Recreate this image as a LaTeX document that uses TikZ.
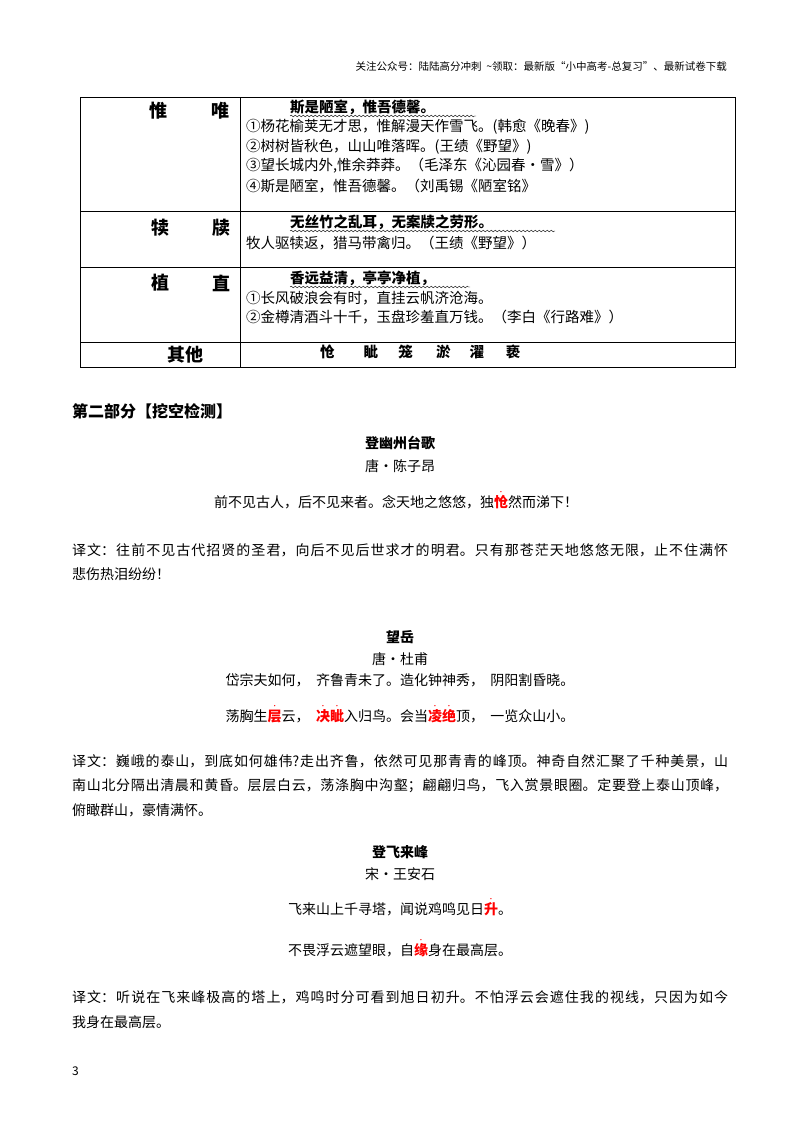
\documentclass[tikz,border=0pt]{standalone}
\usepackage{fontspec}
\usetikzlibrary{decorations.pathmorphing}
\setmainfont{Noto Sans CJK SC}
\XeTeXlinebreaklocale "zh"
\XeTeXlinebreakskip=0pt plus 20pt
\newcommand\emd[1]{\textcolor{red}{\rlap{\makebox[1em][c]{\raisebox{0.9em}{\scalebox{0.45}{•}}}}\textbf{#1}}}
\newcommand\spl[1]{\parbox{656pt}{\parfillskip=0pt\parindent=0pt\leftskip=0pt\rightskip=0pt\noindent #1\par}}
\begin{document}
\begin{tikzpicture}[x=1pt,y=-1pt,
  tb/.style={anchor=west,inner sep=0pt,font=\fontsize{14.5}{16}\selectfont},
  tbb/.style={tb,font=\fontsize{14.5}{16}\selectfont\bfseries},
  hd/.style={inner sep=0pt,font=\fontsize{18}{19}\selectfont\bfseries},
  ctr/.style={inner sep=0pt,font=\fontsize{14}{16}\selectfont},
  ttl/.style={inner sep=0pt,font=\fontsize{14}{16}\selectfont\bfseries},
  tr/.style={anchor=west,inner sep=0pt,font=\fontsize{14}{16}\selectfont},
  wav/.style={decorate,decoration={snake,amplitude=0.8pt,segment length=4pt},line width=0.4pt}]
\useasboundingbox (0,0) rectangle (800,1132);
\fill[white] (0,0) rectangle (800,1132);
\node[anchor=east,inner sep=0pt,font=\fontsize{10.5}{12}\selectfont] (hdr) at (727,66) {关注公众号：陆陆高分冲刺\ \ \textasciitilde 领取：最新版“小中高考-总复习”、最新试卷下载};
% table
\draw[line width=0.8pt] (80,97) rectangle (735,367);
\draw[line width=0.8pt] (240,97) -- (240,367);
\foreach \y in {211,267,342} \draw[line width=0.8pt] (80,\y) -- (735,\y);
\node[hd] (a1) at (158,111) {惟}; \node[hd] (a2) at (220,111) {唯};
\node[hd] (b1) at (160,228) {犊}; \node[hd] (b2) at (221,228) {牍};
\node[hd] (c1) at (160,283) {植}; \node[hd] (c2) at (221,283) {直};
\node[hd] (d1) at (185,355) {其他};
\node[tbb] (r1) at (290,107) {斯是陋室，惟吾德馨。};
\draw[wav] (290,116) -- (476,116);
\node[tb] (r2) at (246,127) {①杨花榆荚无才思，惟解漫天作雪飞。(韩愈《晚春》)};
\node[tb] (r3) at (246,147) {②树树皆秋色，山山唯落晖。(王绩《野望》)};
\node[tb] (r4) at (246,166) {③望长城内外,惟余莽莽。（毛泽东《沁园春·雪》）};
\node[tb] (r5) at (246,186) {④斯是陋室，惟吾德馨。（刘禹锡《陋室铭》};
\node[tbb] (s1) at (290,222) {无丝竹之乱耳，无案牍之劳形。};
\draw[wav] (290,231) -- (555,231);
\node[tb] (s2) at (246,243) {牧人驱犊返，猎马带禽归。（王绩《野望》）};
\node[tbb] (t1) at (290,278) {香远益清，亭亭净植，};
\draw[wav] (290,287) -- (470,287);
\node[tb] (t2) at (246,298) {①长风破浪会有时，直挂云帆济沧海。};
\node[tb] (t3) at (246,317) {②金樽清酒斗十千，玉盘珍羞直万钱。（李白《行路难》）};
\node[tbb] (u1) at (320,352) {怆\hspace{2em}眦\hspace{1.4em}笼\hspace{1.6em}淤\hspace{1.3em}濯\hspace{1.5em}亵};
% part 2
\node[anchor=west,inner sep=0pt,font=\fontsize{16}{18}\selectfont\bfseries] (p2) at (72,411) {第二部分【挖空检测】};
\node[ttl] (ti1) at (400,443) {登幽州台歌};
\node[ctr] (au1) at (400,466) {唐·陈子昂};
\node[ctr] (l1) at (396,500) {前不见古人，后不见来者。念天地之悠悠，独\emd{怆}然而涕下！};
\node[tr] (x1) at (72,550) {\spl{译文：往前不见古代招贤的圣君，向后不见后世求才的明君。只有那苍茫天地悠悠无限，止不住满怀}};
\node[tr] (x2) at (72,574) {悲伤热泪纷纷！};
\node[ttl] (ti2) at (400,637) {望岳};
\node[ctr] (au2) at (400,659) {唐·杜甫};
\node[ctr] (l2) at (400,680) {岱宗夫如何，\ \ 齐鲁青未了。造化钟神秀，\ \ 阴阳割昏晓。};
\node[ctr] (l3) at (400,714) {荡胸生\emd{层}云，\ \ \emd{决}\emd{眦}入归鸟。会当\emd{凌}\emd{绝}顶，\ \ 一览众山小。};
\node[tr] (y1) at (72,761) {\spl{译文：巍峨的泰山，到底如何雄伟?走出齐鲁，依然可见那青青的峰顶。神奇自然汇聚了千种美景，山}};
\node[tr] (y2) at (72,786) {\spl{南山北分隔出清晨和黄昏。层层白云，荡涤胸中沟壑；翩翩归鸟，飞入赏景眼圈。定要登上泰山顶峰，}};
\node[tr] (y3) at (72,810) {俯瞰群山，豪情满怀。};
\node[ttl] (ti3) at (400,852) {登飞来峰};
\node[ctr] (au3) at (400,874) {宋·王安石};
\node[ctr] (l4) at (400,907) {飞来山上千寻塔，闻说鸡鸣见日\emd{升}。};
\node[ctr] (l5) at (400,948) {不畏浮云遮望眼，自\emd{缘}身在最高层。};
\node[tr] (z1) at (72,997) {\spl{译文：听说在飞来峰极高的塔上，鸡鸣时分可看到旭日初升。不怕浮云会遮住我的视线，只因为如今}};
\node[tr] (z2) at (72,1022) {我身在最高层。};
\node[anchor=west,inner sep=0pt,font=\fontsize{12}{14}\selectfont] (pg) at (72,1071) {3};
\end{tikzpicture}
\end{document}
